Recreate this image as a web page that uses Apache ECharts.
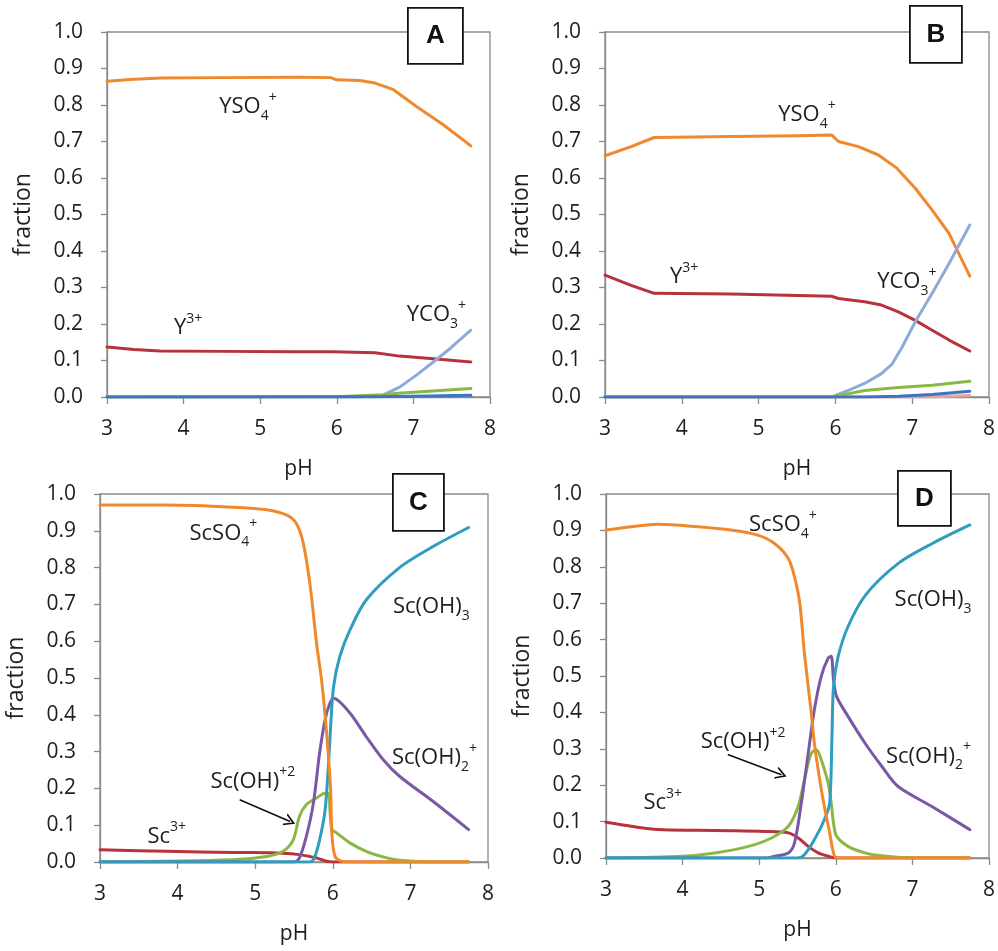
<!DOCTYPE html>
<html>
<head>
<meta charset="utf-8">
<script src="https://cdn.jsdelivr.net/npm/echarts@6/dist/echarts.min.js"></script>
<style>
  html, body { margin: 0; padding: 0; background: #ffffff; }
  #chart { width: 998px; height: 951px; }
</style>
</head>
<body>
<div id="chart"></div>
<script>
// Axis ticks (shared by the four panels)
const pHTicks = [3, 4, 5, 6, 7, 8];
const fractionTicks = [0, 0.1, 0.2, 0.3, 0.4, 0.5, 0.6, 0.7, 0.8, 0.9, 1.0];

// Panel A – yttrium species, [pH, fraction]
const A_YSO4 = [[3,0.865],[3.3,0.870],[3.7,0.874],[4.5,0.875],[5.5,0.876],[5.92,0.875],[6.0,0.869],[6.3,0.867],[6.5,0.860],[6.74,0.842],[7.04,0.796],[7.39,0.746],[7.75,0.688]];
const A_Y3 = [[3,0.137],[3.35,0.130],[3.69,0.126],[4.5,0.125],[5.5,0.124],[5.95,0.124],[6.5,0.121],[6.82,0.112],[7.26,0.105],[7.75,0.096]];
const A_YCO3 = [[3,0],[6.3,0],[6.6,0.005],[6.82,0.027],[7.04,0.060],[7.26,0.096],[7.48,0.133],[7.75,0.183]];
const A_green = [[3,0],[6.0,0.001],[6.6,0.006],[6.8,0.010],[7.2,0.016],[7.75,0.023]];
const A_blue = [[3,0],[6.5,0.001],[7.2,0.003],[7.75,0.005]];

// Panel B – yttrium species, [pH, fraction]
const B_YSO4 = [[3,0.661],[3.34,0.686],[3.64,0.711],[4.64,0.714],[5.52,0.716],[5.95,0.718],[6.04,0.700],[6.3,0.686],[6.56,0.663],[6.8,0.627],[7.04,0.572],[7.26,0.512],[7.48,0.448],[7.75,0.331]];
const B_Y3 = [[3,0.334],[3.34,0.306],[3.64,0.284],[4.64,0.282],[5.95,0.276],[6.04,0.270],[6.38,0.261],[6.6,0.252],[6.82,0.233],[7.04,0.210],[7.26,0.183],[7.48,0.156],[7.75,0.126]];
const B_YCO3 = [[3,0],[5.95,0],[6.17,0.018],[6.38,0.037],[6.6,0.064],[6.74,0.091],[6.87,0.137],[7.04,0.206],[7.26,0.284],[7.48,0.366],[7.75,0.471]];
const B_green = [[3,0],[5.95,0],[6.17,0.009],[6.38,0.018],[6.82,0.026],[7.26,0.032],[7.75,0.043]];
const B_blue = [[3,0],[6.4,0],[6.82,0.002],[7.26,0.007],[7.75,0.016]];
const B_pink = [[3,0],[7.2,0],[7.75,0.004]];

// Panel C – scandium species, [pH, fraction]
const C_ScSO4 = [[3,0.970],[3.86,0.970],[4.72,0.964],[5.15,0.957],[5.4,0.943],[5.53,0.920],[5.62,0.866],[5.71,0.748],[5.79,0.595],[5.86,0.486],[5.92,0.350],[5.97,0.205],[5.99,0.070],[6.03,0.015],[6.1,0.003],[6.22,0],[7.75,0]];
const C_ScOH3 = [[3,0],[5.7,0],[5.76,0.010],[5.83,0.060],[5.9,0.140],[5.94,0.250],[5.97,0.360],[6.01,0.477],[6.09,0.558],[6.22,0.630],[6.43,0.712],[6.86,0.800],[7.29,0.857],[7.75,0.909]];
const C_ScOH2 = [[3,0],[5.5,0],[5.57,0.011],[5.66,0.070],[5.75,0.160],[5.83,0.296],[5.9,0.386],[5.96,0.430],[6.01,0.445],[6.22,0.405],[6.43,0.341],[6.65,0.278],[6.86,0.233],[7.29,0.165],[7.75,0.088]];
const C_ScOH = [[3,0],[4.7,0.006],[5.15,0.015],[5.36,0.029],[5.49,0.060],[5.57,0.124],[5.66,0.156],[5.79,0.174],[5.9,0.187],[5.94,0.187],[5.97,0.120],[5.99,0.088],[6.05,0.079],[6.22,0.052],[6.43,0.029],[6.65,0.014],[6.86,0.005],[7.29,0],[7.75,0]];
const C_Sc3 = [[3,0.033],[3.86,0.029],[4.72,0.026],[5.36,0.024],[5.57,0.020],[5.79,0.011],[5.92,0.002],[6.0,0],[7.75,0]];

// Panel D – scandium species, [pH, fraction]
const D_ScSO4 = [[3,0.901],[3.33,0.910],[3.68,0.917],[4.2,0.910],[4.63,0.901],[4.98,0.887],[5.2,0.864],[5.38,0.823],[5.46,0.773],[5.53,0.700],[5.59,0.563],[5.68,0.398],[5.72,0.316],[5.79,0.215],[5.85,0.142],[5.92,0.069],[5.97,0.014],[6.01,0],[7.75,0]];
const D_ScOH3 = [[3,0],[5.5,0],[5.59,0.009],[5.72,0.050],[5.85,0.105],[5.92,0.151],[5.95,0.334],[5.97,0.470],[6.03,0.553],[6.16,0.636],[6.39,0.723],[6.82,0.810],[7.26,0.864],[7.75,0.915]];
const D_ScOH2 = [[3,0],[5.1,0],[5.2,0.005],[5.38,0.014],[5.46,0.041],[5.55,0.151],[5.64,0.288],[5.72,0.407],[5.81,0.499],[5.9,0.549],[5.94,0.554],[5.97,0.490],[6.01,0.444],[6.16,0.389],[6.38,0.316],[6.6,0.252],[6.81,0.197],[7.25,0.142],[7.75,0.078]];
const D_ScOH = [[3,0],[4.0,0.005],[4.42,0.014],[4.86,0.032],[5.16,0.055],[5.38,0.087],[5.51,0.142],[5.59,0.215],[5.68,0.288],[5.75,0.297],[5.81,0.270],[5.9,0.206],[5.94,0.151],[5.97,0.096],[6.01,0.060],[6.16,0.032],[6.38,0.014],[6.6,0.006],[7.03,0],[7.75,0]];
const D_Sc3 = [[3,0.098],[3.33,0.087],[3.68,0.078],[4.2,0.076],[4.63,0.075],[5.07,0.073],[5.38,0.069],[5.51,0.055],[5.64,0.032],[5.77,0.014],[5.9,0.005],[6.0,0],[7.75,0]];

// Species labels (rich text) and where they sit, in [pH, fraction]
const labelsA = [
  { text: '{b|YSO}{sub|4}{sup|+}', at: [4.84, 0.795] },
  { text: '{b|Y}{sup|3+}', at: [4.06, 0.19] },
  { text: '{b|YCO}{sub|3}{sup|+}', at: [7.3, 0.225] }
];
const labelsB = [
  { text: '{b|YSO}{sub|4}{sup|+}', at: [5.63, 0.773] },
  { text: '{b|Y}{sup|3+}', at: [4.03, 0.33] },
  { text: '{b|YCO}{sub|3}{sup|+}', at: [6.93, 0.315] }
];
const labelsC = [
  { text: '{b|ScSO}{sub|4}{sup|+}', at: [4.59, 0.893] },
  { text: '{b|Sc(OH)}{sub|3}', at: [7.27, 0.694] },
  { text: '{b|Sc(OH)}{sub|2}{sup|+}', at: [7.31, 0.282] },
  { text: '{b|Sc(OH)}{sup|+2}', at: [4.97, 0.219] },
  { text: '{b|Sc}{sup|3+}', at: [3.86, 0.07] }
];
const labelsD = [
  { text: '{b|ScSO}{sub|4}{sup|+}', at: [5.31, 0.915] },
  { text: '{b|Sc(OH)}{sub|3}', at: [7.27, 0.709] },
  { text: '{b|Sc(OH)}{sub|2}{sup|+}', at: [7.21, 0.279] },
  { text: '{b|Sc(OH)}{sup|+2}', at: [4.79, 0.32] },
  { text: '{b|Sc}{sup|3+}', at: [3.74, 0.151] }
];
// Pointer arrows for Sc(OH)+2: [from, to]
const arrowC = [[4.80, 0.169], [5.45, 0.11]];
const arrowD = [[4.59, 0.284], [5.29, 0.229]];

const panelNames = ['A', 'B', 'C', 'D'];

const FONT = '"Open Sans", "DejaVu Sans", sans-serif';
const TEXT = '#1e1e1e';
const AXIS = '#8a8a8a';

const COL = {
  orange: '#F0892B',
  red: '#B7323B',
  lightBlue: '#8EAADA',
  green: '#8BB743',
  blue: '#3B74C2',
  pink: '#E9A3A3',
  cyan: '#2F9DC0',
  purple: '#7A58A5'
};

const grids = [
  { left: 107, top: 32, width: 383, height: 365 },
  { left: 605, top: 32, width: 385, height: 365 },
  { left: 100, top: 494, width: 388, height: 368 },
  { left: 606, top: 494, width: 383, height: 364 }
];

// Curve smoothing: the yttrium panels are drawn as straight segments,
// the scandium panels as smooth curves.
const smoothing = [false, false, 0.3, 0.3];

// Open chevron used as arrow head (tip points along the line)
const CHEVRON = 'path://M0,20 L10,0 L20,20 L17,20 L10,6 L3,20 Z';

const rich = {
  b: { fontSize: 22, fontFamily: FONT, color: TEXT, lineHeight: 32 },
  sub: { fontSize: 14, fontFamily: FONT, color: TEXT, lineHeight: 15, verticalAlign: 'bottom' },
  sup: { fontSize: 14, fontFamily: FONT, color: TEXT, lineHeight: 15, verticalAlign: 'top' }
};

function line(gi, data, color, z) {
  return {
    type: 'line',
    xAxisIndex: gi, yAxisIndex: gi,
    data: data,
    symbol: 'none', showSymbol: false,
    smooth: smoothing[gi],
    lineStyle: { color: color, width: 3, cap: 'round', join: 'round' },
    itemStyle: { color: color },
    z: z || 2,
    silent: true,
    animation: false
  };
}

function labelSeries(gi, labels, arrow) {
  const s = {
    type: 'line', xAxisIndex: gi, yAxisIndex: gi, data: [],
    symbol: 'none', silent: true, animation: false, z: 5,
    markPoint: {
      silent: true, animation: false,
      symbol: 'circle', symbolSize: 0,
      data: labels.map(l => ({
        coord: l.at,
        label: { show: true, position: 'inside', formatter: l.text, rich: rich }
      }))
    }
  };
  if (arrow) {
    s.markLine = {
      silent: true, animation: false,
      symbol: ['none', CHEVRON], symbolSize: [13, 11],
      label: { show: false },
      itemStyle: { color: '#111' },
      lineStyle: { color: '#111', width: 1.6, type: 'solid' },
      data: [[{ coord: arrow[0] }, { coord: arrow[1] }]]
    };
  }
  return s;
}

const xAxes = grids.map((g, i) => ({
  type: 'value', gridIndex: i,
  min: pHTicks[0], max: pHTicks[pHTicks.length - 1], interval: 1,
  name: 'pH', nameLocation: 'middle', nameGap: 62,
  nameTextStyle: { fontSize: 21, fontFamily: FONT, color: TEXT },
  axisLine: { show: true, lineStyle: { color: AXIS, width: 1.3 } },
  axisTick: { show: true, inside: false, length: 7, lineStyle: { color: AXIS, width: 1.3 } },
  axisLabel: { fontSize: 21, fontFamily: FONT, color: TEXT, margin: 22 },
  splitLine: { show: false }
}));

const yAxes = grids.map((g, i) => ({
  type: 'value', gridIndex: i,
  min: fractionTicks[0], max: fractionTicks[fractionTicks.length - 1], interval: 0.1,
  name: 'fraction', nameLocation: 'middle', nameGap: 72,
  nameTextStyle: { fontSize: 23, fontFamily: FONT, color: TEXT },
  axisLine: { show: true, lineStyle: { color: AXIS, width: 1.3 } },
  axisTick: { show: true, inside: false, length: 6, lineStyle: { color: AXIS, width: 1.3 } },
  axisLabel: { fontSize: 21, fontFamily: FONT, color: TEXT, margin: 24,
               formatter: v => v.toFixed(1) },
  splitLine: { show: false }
}));

const series = [
  // A
  line(0, A_YSO4, COL.orange), line(0, A_Y3, COL.red), line(0, A_YCO3, COL.lightBlue),
  line(0, A_green, COL.green), line(0, A_blue, COL.blue, 3),
  labelSeries(0, labelsA),
  // B
  line(1, B_YSO4, COL.orange), line(1, B_Y3, COL.red), line(1, B_YCO3, COL.lightBlue),
  line(1, B_green, COL.green), line(1, B_pink, COL.pink), line(1, B_blue, COL.blue, 3),
  labelSeries(1, labelsB),
  // C
  line(2, C_Sc3, COL.red), line(2, C_ScOH, COL.green), line(2, C_ScOH2, COL.purple),
  line(2, C_ScOH3, COL.cyan), line(2, C_ScSO4, COL.orange, 3),
  labelSeries(2, labelsC, arrowC),
  // D
  line(3, D_Sc3, COL.red), line(3, D_ScOH, COL.green), line(3, D_ScOH2, COL.purple),
  line(3, D_ScOH3, COL.cyan), line(3, D_ScSO4, COL.orange, 3),
  labelSeries(3, labelsD, arrowD)
];

// Panel letter boxes
const boxes = [
  { x: 407, y: 7, w: 55, h: 56 },
  { x: 909, y: 5, w: 52, h: 57 },
  { x: 392, y: 473, w: 51, h: 57 },
  { x: 897, y: 470, w: 53, h: 55 }
];
const graphic = boxes.map((b, i) => ({
  type: 'group', left: b.x, top: b.y, z: 100,
  children: [
    { type: 'rect', shape: { x: 0, y: 0, width: b.w, height: b.h },
      style: { fill: '#ffffff', stroke: '#111', lineWidth: 1.8 } },
    { type: 'text', x: b.w / 2, y: b.h / 2,
      style: { text: panelNames[i], fill: '#111', font: 'bold 26px "Liberation Sans", Arial, sans-serif',
               textAlign: 'center', textVerticalAlign: 'middle' } }
  ]
}));

const chart = echarts.init(document.getElementById('chart'), null, { renderer: 'canvas' });
chart.setOption({
  backgroundColor: '#ffffff',
  animation: false,
  grid: grids.map(g => Object.assign({ show: true, borderColor: AXIS, borderWidth: 1.3, backgroundColor: 'transparent' }, g)),
  xAxis: xAxes,
  yAxis: yAxes,
  series: series,
  graphic: graphic
});
</script>
</body>
</html>
